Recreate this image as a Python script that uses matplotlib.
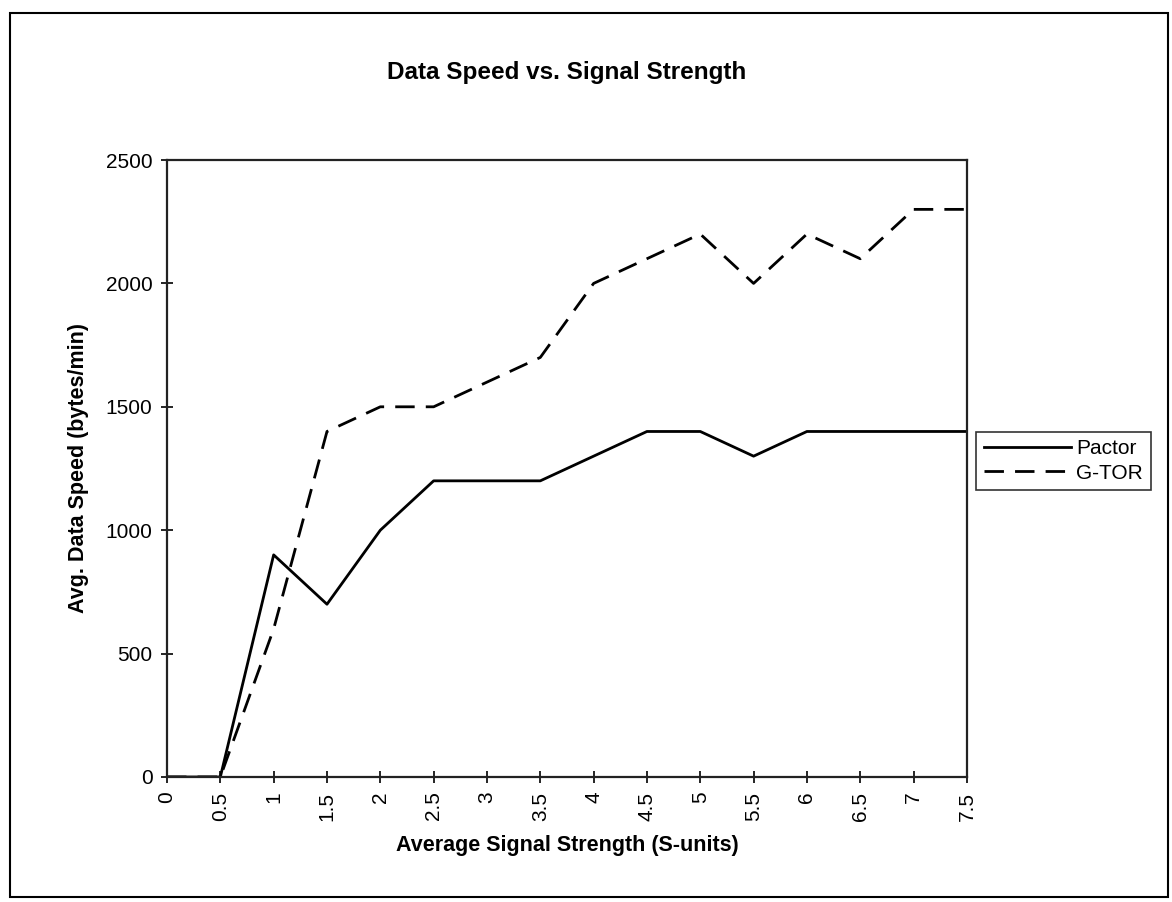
import matplotlib.pyplot as plt
from matplotlib.patches import Rectangle

plt.rcParams['font.family'] = ['Liberation Sans', 'DejaVu Sans']

signal = [0, 0.5, 1, 1.5, 2, 2.5, 3, 3.5, 4, 4.5, 5, 5.5, 6, 6.5, 7, 7.5]
pactor = [0, 0, 900, 700, 1000, 1200, 1200, 1200, 1300, 1400, 1400, 1300, 1400, 1400, 1400, 1400]
gtor = [0, 0, 600, 1400, 1500, 1500, 1600, 1700, 2000, 2100, 2200, 2000, 2200, 2100, 2300, 2300]
x_labels = ['0', '0.5', '1', '1.5', '2', '2.5', '3', '3.5', '4', '4.5', '5', '5.5', '6', '6.5', '7', '7.5']
y_ticks = [0, 500, 1000, 1500, 2000, 2500]

fig = plt.figure(figsize=(11.72, 9.02), dpi=100)
ax = fig.add_axes([0.1425, 0.1386, 0.6825, 0.684])

ax.plot(signal, pactor, color='black', lw=2, label='Pactor')
ax.plot(signal, gtor, color='black', lw=2, dashes=(7, 4), label='G-TOR')

ax.set_xlim(0, 7.5)
ax.set_ylim(0, 2500)
ax.set_xticks(signal)
ax.set_xticklabels(x_labels, rotation=90, fontsize=15)
ax.set_yticks(y_ticks)
ax.set_yticklabels([str(v) for v in y_ticks], fontsize=15)
ax.tick_params(direction='inout', length=9, width=1.2, pad=6)

for s in ax.spines.values():
    s.set_linewidth(1.6)
    s.set_color('#222222')

ax.set_title('Data Speed vs. Signal Strength', fontsize=17.5, fontweight='bold', pad=58)
ax.set_xlabel('Average Signal Strength (S-units)', fontsize=15.5, fontweight='bold', labelpad=10)
ax.set_ylabel('Avg. Data Speed (bytes/min)', fontsize=15.5, fontweight='bold', labelpad=12)

leg = ax.legend(loc='upper left', bbox_to_anchor=(1.012, 0.559), fontsize=15,
                frameon=True, fancybox=False, handlelength=4.2, borderpad=0.35,
                labelspacing=0.25, handletextpad=0.25, borderaxespad=0)
leg.get_frame().set_edgecolor('black')
leg.get_frame().set_linewidth(1.2)

# outer frame round the whole chart
fig.patches.append(Rectangle((10 / 1172, 1 - 897 / 902), 1158 / 1172, 884 / 902,
                             transform=fig.transFigure, fill=False,
                             edgecolor='black', lw=1.5))

fig.savefig('out.png', dpi=100)
